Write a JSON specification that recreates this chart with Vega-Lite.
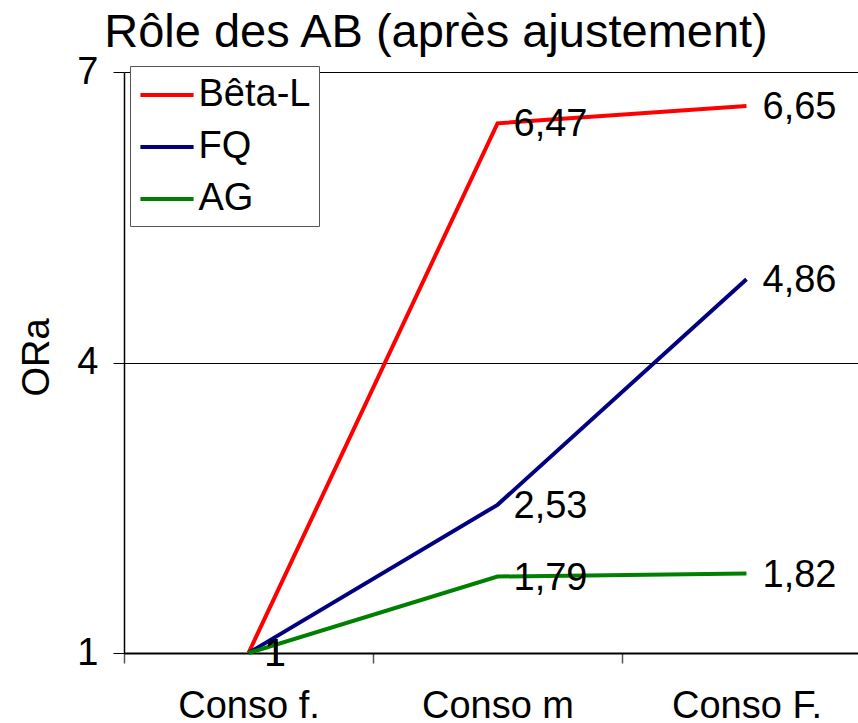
{
  "$schema": "https://vega.github.io/schema/vega-lite/v6.json",
  "width": 734,
  "height": 581,
  "autosize": {"type": "none"},
  "padding": {"left": 124, "top": 72, "right": 0, "bottom": 70},
  "background": "white",
  "title": {
    "text": "Rôle des AB (après ajustement)",
    "fontSize": 47,
    "font": "Liberation Sans",
    "fontWeight": "normal",
    "color": "black",
    "anchor": "middle",
    "frame": "group",
    "dx": -55,
    "offset": -4
  },
  "config": {
    "font": "Liberation Sans",
    "view": {"stroke": null},
    "locale": {"number": {"decimal": ",", "thousands": " ", "grouping": [3], "currency": ["", " €"]}}
  },
  "data": {
    "values": [
      {"conso": "Conso f.", "serie": "Bêta-L", "ora": 1},
      {"conso": "Conso m", "serie": "Bêta-L", "ora": 6.47},
      {"conso": "Conso F.", "serie": "Bêta-L", "ora": 6.65},
      {"conso": "Conso f.", "serie": "FQ", "ora": 1},
      {"conso": "Conso m", "serie": "FQ", "ora": 2.53},
      {"conso": "Conso F.", "serie": "FQ", "ora": 4.86},
      {"conso": "Conso f.", "serie": "AG", "ora": 1},
      {"conso": "Conso m", "serie": "AG", "ora": 1.79},
      {"conso": "Conso F.", "serie": "AG", "ora": 1.82}
    ]
  },
  "encoding": {
    "x": {
      "field": "conso",
      "type": "nominal",
      "sort": ["Conso f.", "Conso m", "Conso F."],
      "scale": {"type": "band", "range": [0, 747], "paddingInner": 0, "paddingOuter": 0},
      "axis": {
        "title": null,
        "labelAngle": 0,
        "labelFontSize": 38,
        "labelColor": "black",
        "labelBaseline": "alphabetic",
        "labelPadding": 54,
        "tickBand": "extent",
        "tickSize": 10,
        "tickColor": "#555555",
        "tickWidth": 1.5,
        "domainColor": "black",
        "domainWidth": 2,
        "grid": false
      }
    },
    "y": {
      "field": "ora",
      "type": "quantitative",
      "scale": {"domain": [1, 7], "nice": false, "zero": false},
      "axis": {
        "title": "ORa",
        "titleFontSize": 38,
        "titleFontWeight": "normal",
        "titleColor": "black",
        "titleX": -76,
        "titleY": 285,
        "titleAngle": -90,
        "titleAlign": "center",
        "titleBaseline": "alphabetic",
        "values": [1, 4, 7],
        "labelFontSize": 38,
        "labelColor": "black",
        "labelPadding": 15,
        "tickSize": 11,
        "tickColor": "black",
        "tickWidth": 1,
        "domainColor": "black",
        "domainWidth": 1.5,
        "grid": true,
        "gridColor": "black",
        "gridWidth": 1,
        "gridOpacity": 1
      }
    }
  },
  "layer": [
    {
      "mark": {"type": "line", "strokeWidth": 4},
      "encoding": {
        "color": {
          "field": "serie",
          "type": "nominal",
          "scale": {"domain": ["Bêta-L", "FQ", "AG"], "range": ["#FF0000", "#000080", "#008000"]},
          "legend": {
            "title": null,
            "orient": "none",
            "legendX": 6,
            "legendY": -6,
            "direction": "vertical",
            "labelFontSize": 38,
            "labelColor": "black",
            "symbolType": "M-1.4,0H1.4",
            "symbolSize": 1444,
            "symbolStrokeWidth": 4,
            "symbolOffset": 8,
            "labelOffset": 10.5,
            "rowPadding": 12,
            "padding": 8,
            "strokeColor": "#555555",
            "fillColor": "white",
            "cornerRadius": 0
          }
        }
      }
    },
    {
      "mark": {"type": "text", "align": "left", "baseline": "middle", "dx": 16, "dy": 2, "fontSize": 38, "color": "black"},
      "encoding": {
        "text": {"field": "ora", "type": "quantitative", "format": ".2~f"},
        "detail": {"field": "serie"}
      }
    }
  ]
}
